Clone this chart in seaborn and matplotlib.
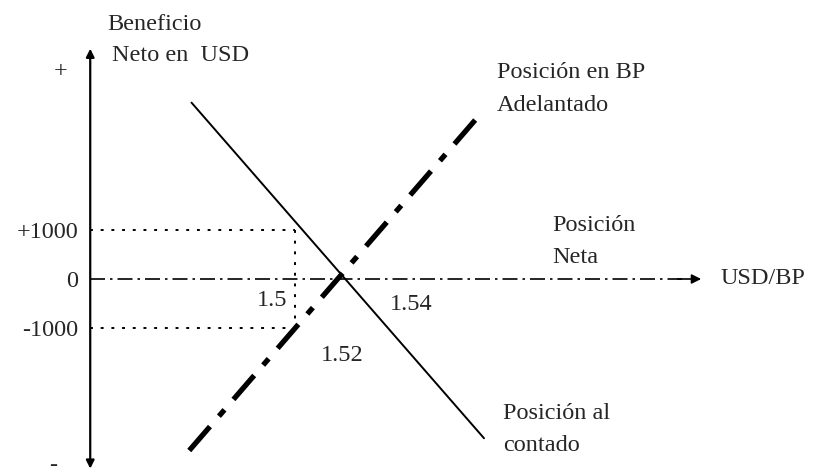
import matplotlib
matplotlib.use("Agg")
import matplotlib.pyplot as plt
import seaborn as sns
import pandas as pd

# data (rate USD/BP, net benefit USD)
spot_rate = [1.454, 1.584]
spot_usd = [3600, -3250]
fwd_rate = [1.453, 1.583]
fwd_usd = [-3500, 3400]
ref_rate = 1.5
ref_usd = [1000, -1000]
ytick_vals = [1000, 0, -1000]
ytick_labels = ["+1000", "0", "-1000"]

sns.set_style("white")
plt.rcParams['font.family'] = ['Liberation Serif', 'DejaVu Serif']

fig = plt.figure(figsize=(8.13, 4.75), dpi=100)
ax = fig.add_axes([0, 0, 1, 1])
ax.set_xlim(1.3689, 1.7302)
ax.set_ylim(-4000, 5694)
ax.axis('off')

x_axis = 1.409

spot = pd.DataFrame({'rate': spot_rate, 'usd': spot_usd})
fwd = pd.DataFrame({'rate': fwd_rate, 'usd': fwd_usd})
sns.lineplot(data=spot, x='rate', y='usd', ax=ax, color='black', lw=1.4)
sns.lineplot(data=fwd, x='rate', y='usd', ax=ax, color='black', lw=3.8,
             dashes=False)
ax.lines[-1].set_dashes((6, 2.6, 1.6, 2.6))

# axes with arrows
ax.annotate('', xy=(x_axis, 4700), xytext=(x_axis, -3870),
            arrowprops=dict(arrowstyle='<|-|>', lw=1.6, color='black',
                            shrinkA=0, shrinkB=0, mutation_scale=12))
ax.plot([x_axis, 1.672], [0, 0], color='black', lw=1.2,
        dashes=(9, 3, 1.5, 3))
ax.annotate('', xy=(1.6805, 0), xytext=(1.670, 0),
            arrowprops=dict(arrowstyle='-|>', lw=1.2, color='black',
                            shrinkA=0, shrinkB=0, mutation_scale=14))

# dotted reference lines
for v in ref_usd:
    ax.plot([x_axis, ref_rate], [v, v], color='black', lw=1.4, ls=(0, (1.5, 4)))
ax.plot([ref_rate, ref_rate], ref_usd, color='black', lw=1.4, ls=(0, (1.5, 4)))

fs = 17.5
for v, lab in zip(ytick_vals, ytick_labels):
    ax.text(1.4036, v - 60, lab, ha='right', va='center', fontsize=fs)
ax.text(1.3956, 4224, "+", ha='center', va='center', fontsize=fs)
ax.text(1.3924, -3800, "-", ha='center', va='center', fontsize=fs)

ax.text(1.4164, 5184, "Beneficio", ha='left', va='center', fontsize=fs)
ax.text(1.4187, 4571, "Neto en  USD", ha='left', va='center', fontsize=fs)

ax.text(1.4964, -429, "1.5", ha='right', va='center', fontsize=fs)
ax.text(1.5209, -1551, "1.52", ha='center', va='center', fontsize=fs)
ax.text(1.5609, -530, "1.54", ha='right', va='center', fontsize=fs)

ax.text(1.5898, 4224, "Posición en BP", ha='left', va='center', fontsize=fs)
ax.text(1.5898, 3551, "Adelantado", ha='left', va='center', fontsize=fs)
ax.text(1.6142, 1102, "Posición", ha='left', va='center', fontsize=fs)
ax.text(1.6142, 449, "Neta", ha='left', va='center', fontsize=fs)
ax.text(1.6889, 20, "USD/BP", ha='left', va='center', fontsize=fs)
ax.text(1.5924, -2735, "Posición al", ha='left', va='center', fontsize=fs)
ax.text(1.5924, -3388, "contado", ha='left', va='center', fontsize=fs)

fig.savefig("out.png", dpi=100)
